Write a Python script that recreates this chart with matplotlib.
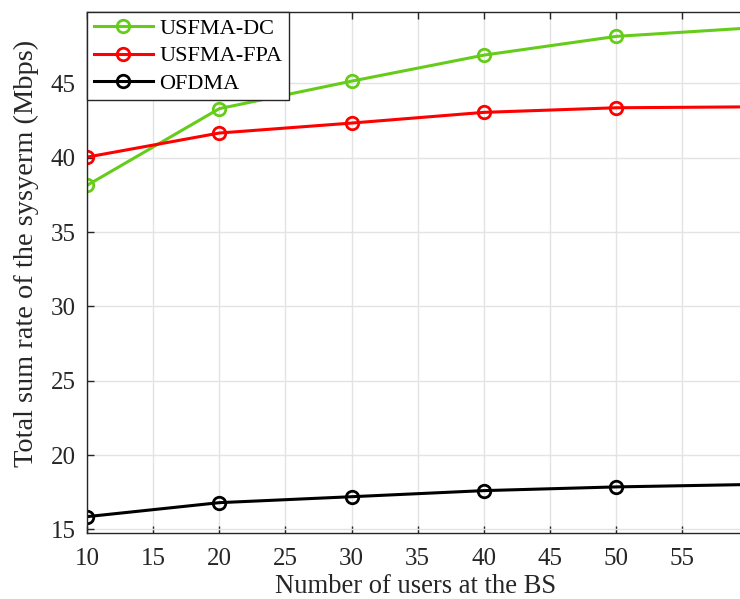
import numpy as np
import matplotlib
matplotlib.use("Agg")
import matplotlib.pyplot as plt

# --- Data ---
users = [10, 20, 30, 40, 50, 60]
rate_dc = [38.14, 43.30, 45.15, 46.90, 48.16, 48.72]
rate_fpa = [40.04, 41.66, 42.33, 43.05, 43.36, 43.42]
rate_ofdma = [15.86, 16.80, 17.20, 17.61, 17.86, 18.02]

x_ticks = [10, 15, 20, 25, 30, 35, 40, 45, 50, 55]
y_ticks = [15, 20, 25, 30, 35, 40, 45]

plt.rcParams["font.family"] = ["Liberation Serif", "DejaVu Serif"]

fig = plt.figure(figsize=(7.40, 5.99), dpi=100)
# axes run past the right edge of the figure (cropped like the original)
ax = fig.add_axes([87 / 740, 66.3 / 599, (748.5 - 87) / 740, (532.7 - 12) / 599])

series = [
    ("USFMA-DC", rate_dc, "#66cc1a"),
    ("USFMA-FPA", rate_fpa, "#ff0000"),
    ("OFDMA", rate_ofdma, "#000000"),
]
for label, vals, color in series:
    ax.plot(users, vals, color=color, linewidth=2.2, marker="o",
            markersize=9, markerfacecolor="none", markeredgewidth=2,
            label=label)

ax.set_xlim(10, 60)
ax.set_ylim(14.78, 49.8)
ax.set_xticks(x_ticks)
ax.set_yticks(y_ticks)
ax.tick_params(direction="in", top=True, right=True, labelsize=18,
               length=5, width=1, colors="#262626", pad=8)
ax.tick_params(axis="x", pad=11)
ax.grid(True, color="#e3e3e3", linewidth=1)
ax.set_axisbelow(True)
for sp in ax.spines.values():
    sp.set_color("#262626")
    sp.set_linewidth(1)

ax.set_xlabel("Number of users at the BS", fontsize=19.2, color="#262626")
ax.xaxis.set_label_coords(0.497, -0.079)
ax.set_ylabel("Total sum rate of the sysyerm (Mbps)", fontsize=20.4,
              color="#262626")
ax.yaxis.set_label_coords(-0.073, 0.536)

leg = ax.legend(loc="upper left", borderaxespad=0, fontsize=16,
                handlelength=2.65, handletextpad=0.3, labelspacing=0.3,
                borderpad=0.3, fancybox=False, framealpha=1)
leg.get_frame().set_edgecolor("#262626")
leg.get_frame().set_linewidth(1)

fig.savefig("out.png", dpi=100)
